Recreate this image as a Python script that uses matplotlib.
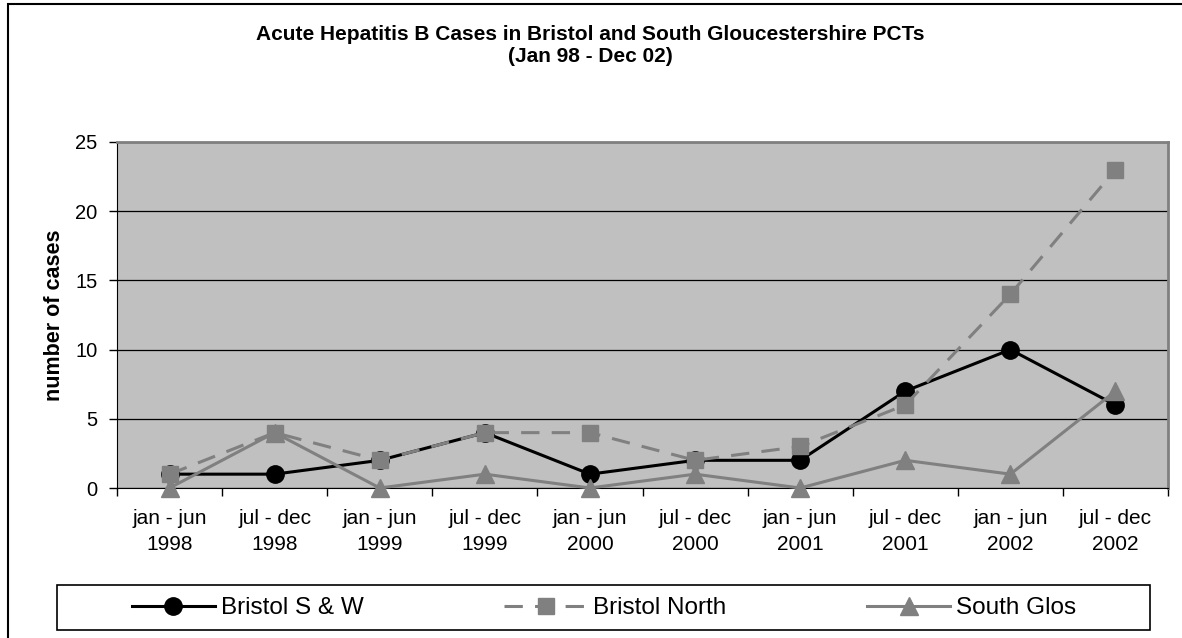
import numpy as np
import matplotlib
matplotlib.use("Agg")
import matplotlib.pyplot as plt
from matplotlib.patches import Rectangle

plt.rcParams['font.family'] = ['Liberation Sans', 'DejaVu Sans']

periods = ["jan - jun\n1998", "jul - dec\n1998", "jan - jun\n1999", "jul - dec\n1999",
           "jan - jun\n2000", "jul - dec\n2000", "jan - jun\n2001", "jul - dec\n2001",
           "jan - jun\n2002", "jul - dec\n2002"]
bristol_sw = [1, 1, 2, 4, 1, 2, 2, 7, 10, 6]
bristol_north = [1, 4, 2, 4, 4, 2, 3, 6, 14, 23]
south_glos = [0, 4, 0, 1, 0, 1, 0, 2, 1, 7]

W, H = 1182, 638
fig = plt.figure(figsize=(W / 100, H / 100), dpi=100)
ax = fig.add_axes([117 / W, 1 - 488 / H, (1168 - 117) / W, (488 - 142) / H])
ax.set_facecolor('#C0C0C0')

x = np.arange(len(periods))
ax.plot(x, bristol_sw, '-', color='black', lw=2.2, marker='o', ms=12.5,
        mfc='black', mec='black', label='Bristol S & W', zorder=3)
ax.plot(x, bristol_north, '--', color='#808080', lw=2.2, dashes=(6, 4), marker='s', ms=12,
        mfc='#808080', mec='#808080', label='Bristol North', zorder=4)
ax.plot(x, south_glos, '-', color='#808080', lw=2.2, marker='^', ms=13,
        mfc='#808080', mec='#808080', label='South Glos', zorder=5, clip_on=False)

ax.set_xlim(-0.5, len(periods) - 0.5)
ax.set_ylim(0, 25)
ax.set_yticks(range(0, 26, 5))
ax.yaxis.grid(True, color='black', lw=0.9)
ax.set_axisbelow(True)
ax.set_xticks(x)
ax.set_xticklabels(periods, fontsize=15, linespacing=1.45)
ax.tick_params(axis='x', length=0, pad=15)
ax.set_xticks(np.arange(-0.5, len(periods), 1), minor=True)
ax.tick_params(axis='x', which='minor', length=6, direction='out', width=1)
ax.tick_params(axis='y', labelsize=14.5, length=6, direction='out', width=1, pad=8)
for s in ['top', 'right']:
    ax.spines[s].set_color('#808080')
    ax.spines[s].set_linewidth(2)
ax.spines['left'].set_color('black')
ax.spines['bottom'].set_color('black')

fig.text(55 / W, 1 - 315 / H, 'number of cases', rotation=90, ha='center', va='center',
         fontsize=15.5, fontweight='bold')

fig.text(590 / W, 1 - 35 / H, 'Acute Hepatitis B Cases in Bristol and South Gloucestershire PCTs',
         ha='center', va='center', fontsize=15, fontweight='bold')
fig.text(590 / W, 1 - 57 / H, '(Jan 98 - Dec 02)', ha='center', va='center',
         fontsize=15, fontweight='bold')

# legend box drawn separately, entries centred inside it
fig.patches.append(Rectangle((57 / W, 1 - 630 / H), (1150 - 57) / W, (630 - 585) / H,
                             transform=fig.transFigure, fill=False, edgecolor='black', lw=1.2))
leg = fig.legend(loc='center', bbox_to_anchor=(604 / W, 1 - 608 / H),
                 ncol=3, fontsize=17.5, frameon=False, handlelength=3.4,
                 handletextpad=0.25, columnspacing=5.8, borderaxespad=0, borderpad=0)

fig.patches.append(Rectangle((8 / W, -0.05), 1.2, 1 - 4 / H + 0.05, transform=fig.transFigure,
                             fill=False, edgecolor='black', lw=1.5))

fig.savefig('out.png', dpi=100)
